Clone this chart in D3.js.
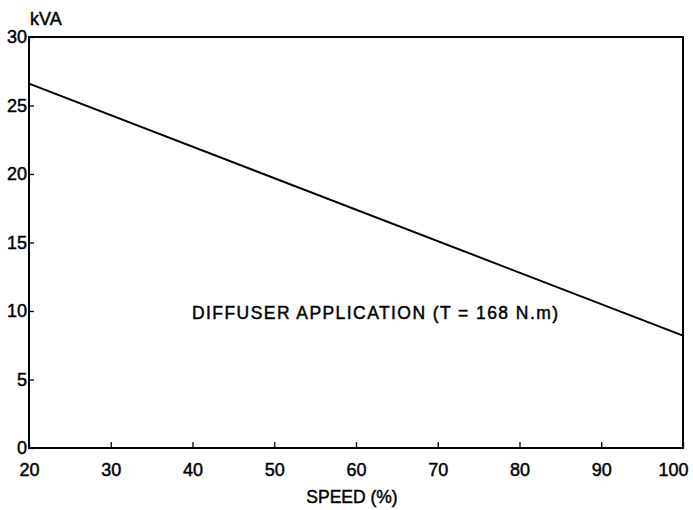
<!DOCTYPE html>
<html><head><meta charset="utf-8">
<script src="https://cdn.jsdelivr.net/npm/d3@7"></script>
<style>
body{margin:0;background:#fff;}
text{font-family:"Liberation Sans",Arial,sans-serif;fill:#000;stroke:#000;stroke-width:0.45px;}
</style></head>
<body><svg id="c" width="693" height="510"></svg>
<script>
const speed = [20, 100];
const kva = [26.6, 8.2];
const xTicks = [20, 30, 40, 50, 60, 70, 80, 90, 100];
const yTicks = [0, 5, 10, 15, 20, 25, 30];
const yLabel = "kVA";
const xLabel = "SPEED (%)";
const note = "DIFFUSER APPLICATION (T = 168 N.m)";

const svg = d3.select("#c");
const L = 29, R = 683, T = 37, B = 448;
const x = d3.scaleLinear().domain([20, 100]).range([L, R]);
const y = d3.scaleLinear().domain([0, 30]).range([B, T]);

// frame
svg.append("rect").attr("x", L).attr("y", T).attr("width", R - L).attr("height", B - T)
  .attr("fill", "none").attr("stroke", "#000").attr("stroke-width", 2);

// bottom axis (ticks inward)
const xa = svg.append("g").attr("transform", `translate(0,${B})`)
  .call(d3.axisBottom(x).tickValues(xTicks).tickSize(-6).tickPadding(15).tickFormat(d3.format("d")));
xa.select(".domain").remove();
xa.selectAll("line").attr("stroke-width", 1.3);
xa.selectAll("text").attr("font-size", 18).attr("dy", "0.71em")
  .attr("dx", d => d === 100 ? -10 : 0);

// left axis
const ya = svg.append("g").attr("transform", `translate(${L},0)`)
  .call(d3.axisLeft(y).tickValues(yTicks).tickSize(-5).tickPadding(8).tickFormat(d3.format("d")));
ya.select(".domain").remove();
ya.selectAll("line").attr("stroke-width", 1.3);
ya.selectAll("text").attr("font-size", 18).attr("x", -2);

// line
const data = speed.map((s, i) => ({s, v: kva[i]}));
svg.append("path").datum(data)
  .attr("d", d3.line().x(d => x(d.s)).y(d => y(d.v)))
  .attr("fill", "none").attr("stroke", "#000").attr("stroke-width", 2);

svg.append("text").attr("x", L + 1).attr("y", 25).attr("font-size", 18).text(yLabel);
svg.append("text").attr("x", 352).attr("y", 503).attr("text-anchor", "middle").attr("font-size", 17.5).text(xLabel);
svg.append("text").attr("x", 192).attr("y", 319).attr("font-size", 17.5)
  .attr("textLength", 366).attr("lengthAdjust", "spacing").text(note);
</script></body></html>
